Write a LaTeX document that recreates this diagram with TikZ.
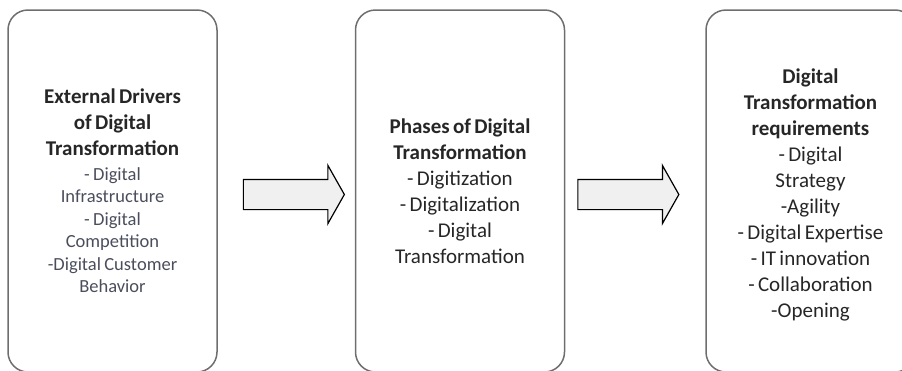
\documentclass[tikz,border=0pt]{standalone}
\usepackage{fontspec}
\setmainfont{Carlito}
\usetikzlibrary{shapes.arrows, positioning}
\definecolor{framegray}{HTML}{6E6E6E}
\definecolor{arrowfill}{HTML}{F0F0F0}
\definecolor{itemgray}{HTML}{4A4E5C}
\tikzset{
  base/.style = {draw, align=center, text width=195pt, inner sep=0pt},
}
\newcommand{\headfont}{\fontsize{21}{26}\selectfont\bfseries}
\newcommand{\listfont}{\fontsize{21}{26}\selectfont}
\newcommand{\smalllist}{\fontsize{18.5}{22.5}\selectfont\color{itemgray}}

\begin{document}
\begin{tikzpicture}[x=1pt, y=1pt,
            stage/.style = {base, rectangle, rounded corners=20pt, framegray,
                            line width=1.5pt, text=black!85,
                            minimum width=209pt, minimum height=362pt},
            blockarrow/.style = {draw, single arrow, fill=arrowfill, line width=1.2pt,
                            minimum height=101pt, inner xsep=0pt, inner ysep=14.5pt,
                            single arrow head extend=14pt, single arrow tip angle=121},
        ]
        \useasboundingbox (0,0) rectangle (902,-370);

        \node[stage] (drivers) at (112.5,-191)
          {{\headfont External Drivers\\of Digital\\Transformation\par}
           \vspace{2pt}
           {\smalllist - Digital\\Infrastructure\\- Digital\\Competition\\-Digital Customer\\Behavior\par}};
        \node[stage, right=137pt of drivers] (phases)
          {{\headfont Phases of Digital\\Transformation\par}
           {\listfont - Digitization\\- Digitalization\\- Digital\\Transformation\par}};
        \node[stage, right=140pt of phases] (needs)
          {{\headfont Digital\\Transformation\\requirements\par}
           {\listfont - Digital\\Strategy\\-Agility\\- Digital Expertise\\- IT innovation\\- Collaboration\\-Opening\par}
           \vspace*{-8pt}};

        % block arrows between the stages
        \node[blockarrow, right=25pt of drivers, yshift=-3.5pt] (step1) {};
        \node[blockarrow, right=12pt of phases, yshift=-3.5pt] (step2) {};

        \end{tikzpicture}
\end{document}
